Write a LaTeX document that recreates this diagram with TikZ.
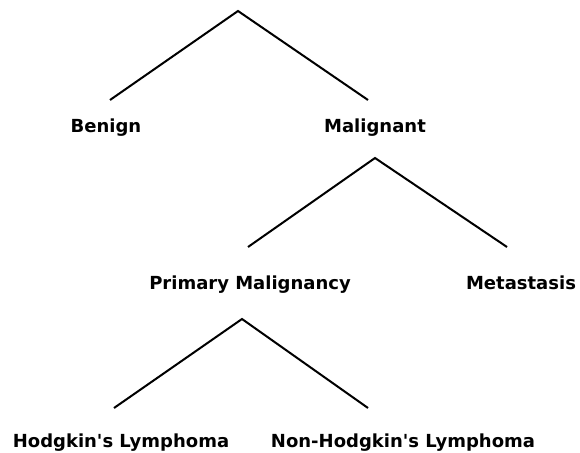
\documentclass[tikz,border=0pt]{standalone}
\usepackage{fontspec}
\setmainfont{DejaVu Sans}[Ligatures=TeXOff]
\usepackage{tikz}
\usetikzlibrary{positioning}

\begin{document}
\begin{tikzpicture}[x=0.75pt, y=-0.75pt,
  branch/.style={line width=1.5pt, line join=miter},
  leaf/.style={anchor=base, inner sep=0pt, font=\bfseries\fontsize{13.5}{16}\selectfont}]
\useasboundingbox (0, 0) rectangle (580, 452);
\node[leaf] (benign) at (106, 133) {Benign};
\node[leaf] (malignant) at (375, 133) {Malignant};
\node[leaf] (primary) at (250, 289) {Primary Malignancy};
\node[leaf] (metastasis) at (521, 289) {Metastasis};
\node[leaf] (hodgkin) at (121, 447) {Hodgkin's Lymphoma};
\node[leaf] (nonhodgkin) at (403, 447) {Non-Hodgkin's Lymphoma};
\coordinate (tumour) at (238, 11);
\coordinate (benign-end) at (110, 100);
\coordinate (malignant-end) at (368, 100);
\coordinate (malignant-top) at (375, 158);
\coordinate (primary-end) at (248, 247);
\coordinate (metastasis-end) at (507, 247);
\coordinate (primary-top) at (242, 319);
\coordinate (hodgkin-end) at (114, 408);
\coordinate (nonhodgkin-end) at (368, 408);
\draw[branch] (benign-end) -- (tumour) -- (malignant-end);
\draw[branch] (primary-end) -- (malignant-top) -- (metastasis-end);
\draw[branch] (hodgkin-end) -- (primary-top) -- (nonhodgkin-end);
\end{tikzpicture}
\end{document}
